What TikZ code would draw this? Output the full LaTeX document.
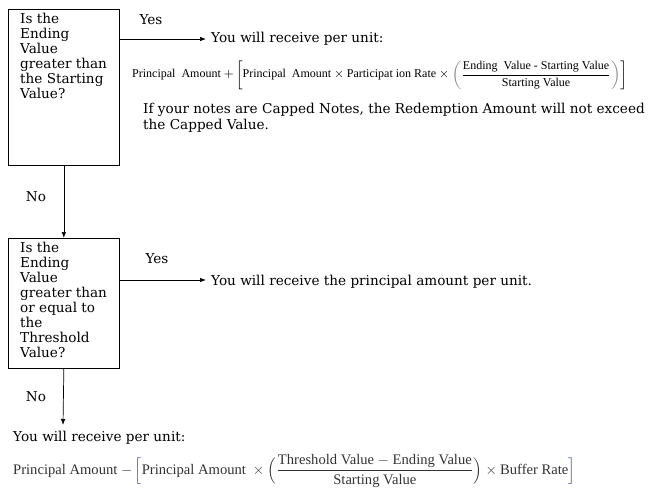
\documentclass[tikz,border=0pt]{standalone}
\usepackage{fontspec}
\usepackage{amsmath}
\setmainfont{DejaVu Serif}
\newfontfamily\formfont{Liberation Serif}
\usetikzlibrary{arrows.meta}
\definecolor{fgray}{HTML}{333333}
\definecolor{fblue}{HTML}{2E4A8A}
\begin{document}
\begin{tikzpicture}[x=1pt,y=-1pt,
  box/.style={draw,line width=0.7pt,inner sep=0pt},
  qtext/.style={anchor=north west,align=left,font=\fontsize{13.6}{15}\selectfont,inner sep=0pt},
  lbl/.style={font=\fontsize{13.6}{15}\selectfont,inner sep=0pt},
  txt/.style={anchor=west,font=\fontsize{13.6}{16}\selectfont,inner sep=0pt,align=left},
  arr/.style={-{Latex[length=6pt,width=4.5pt]},line width=0.7pt}]
\useasboundingbox (0,0) rectangle (652,491);
% boxes
\node[box,minimum width=111pt,minimum height=156pt,anchor=north west] (b1) at (8,9) {};
\node[qtext] (q1) at (20,13) {Is the\\Ending\\Value\\greater than\\the Starting\\Value?};
\node[box,minimum width=111pt,minimum height=130pt,anchor=north west] (b2) at (8,238) {};
\node[qtext] (q2) at (20,242) {Is the\\Ending\\Value\\greater than\\or equal to\\the\\Threshold\\Value?};
% yes branch 1
\coordinate (y1s) at (119,39);
\node[txt] (r1) at (211,39) {You will receive per unit:};
\draw[arr,shorten >=5pt] (y1s) -- (r1.west);
\node[lbl] (yes1) at (151,20) {Yes};
\node[anchor=west,inner sep=0pt] (f1) at (132,75) {\resizebox{495pt}{!}{\formfont\fontsize{8}{10}\selectfont
 Principal\ \ Amount $+\left[\text{Principal\ \ Amount} \times \text{Participat ion Rate} \times {\color{gray}\left(\color{black}\dfrac{\text{Ending\ \ Value - Starting Value}}{\text{Starting Value}}\color{gray}\right)}\right]$}};
\node[txt] (cap) at (143,118) {If your notes are Capped Notes, the Redemption Amount will not exceed\\the Capped Value.};
% no branch 1
\draw[arr] (b1.south) -- (b2.north);
\node[lbl] (no1) at (36,197) {No};
% yes branch 2
\coordinate (y2s) at (119,280);
\node[txt] (r2) at (211,282) {You will receive the principal amount per unit.};
\draw[arr,shorten >=5pt] (y2s) -- (r2.west |- y2s);
\node[lbl] (yes2) at (157,259) {Yes};
% no branch 2
\node[txt] (r3) at (13,438) {You will receive per unit:};
\coordinate (n2e) at (63,425);
\draw[arr] (b2.south) -- (n2e);
\node[lbl] (no2) at (36,397) {No};
\node[anchor=west,inner sep=0pt] (f2) at (13,471) {\resizebox{562pt}{!}{\color{fgray}\formfont\fontsize{10}{12}\selectfont
 Principal Amount $-\,{\color{fblue}\Big[}\text{Principal Amount\ }\times\Big(\dfrac{\text{Threshold Value $-$ Ending Value}}{\text{Starting Value}}\Big)\times\text{Buffer Rate}{\color{fblue}\Big]}$}};
\end{tikzpicture}
\end{document}
